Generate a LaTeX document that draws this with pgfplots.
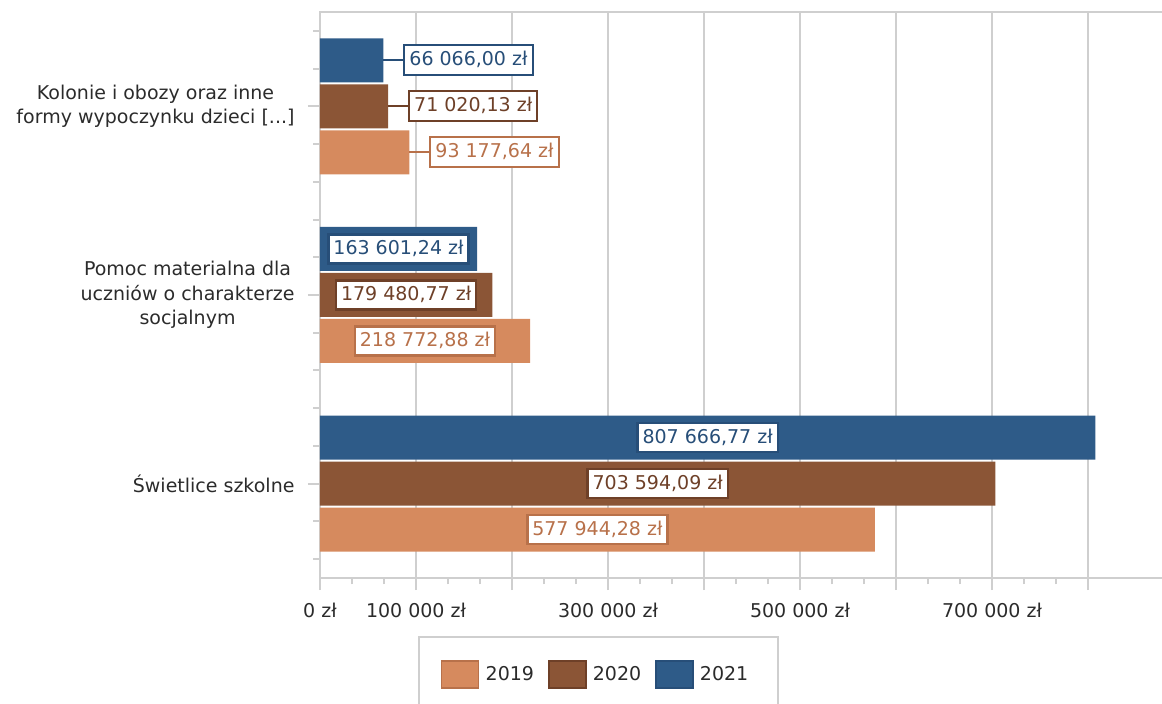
\documentclass[border=0pt]{standalone}
\usepackage{fontspec}
\setmainfont{DejaVu Sans}
\usepackage{pgfplots}
\usepackage{pgfplotstable}
\pgfplotsset{compat=1.18}

\definecolor{cA}{HTML}{D68A5E}
\definecolor{cAd}{HTML}{B8714A}
\definecolor{cB}{HTML}{8B5536}
\definecolor{cBd}{HTML}{6E4028}
\definecolor{cC}{HTML}{2E5B88}
\definecolor{cCd}{HTML}{274E78}
\definecolor{gridc}{HTML}{CFCFCF}
\definecolor{txt}{HTML}{2B2B2B}

\pgfplotstableread[col sep=semicolon]{
cat;val;lab
0;577944.28;577 944,28 zł
1;218772.88;218 772,88 zł
2;93177.64;93 177,64 zł
}\tA
\pgfplotstableread[col sep=semicolon]{
cat;val;lab
0;703594.09;703 594,09 zł
1;179480.77;179 480,77 zł
2;71020.13;71 020,13 zł
}\tB
\pgfplotstableread[col sep=semicolon]{
cat;val;lab
0;807666.77;807 666,77 zł
1;163601.24;163 601,24 zł
2;66066.00;66 066,00 zł
}\tC

\tikzset{
  inlab/.style n args={2}{anchor=center, fill=white, draw=#1, line width=2.5pt, text=#1,
    inner xsep=5pt, inner ysep=5.5pt, text height=14.5pt, text depth=3.5pt, yshift=#2},
  outlab/.style n args={2}{anchor=west, fill=white, draw=#1, line width=2pt, text=#1,
    inner xsep=5pt, inner ysep=6pt, text height=14.5pt, text depth=3.5pt, yshift=#2, xshift=20pt,
    append after command={(\tikzlastnode.west) edge[draw=#1, line width=2pt] ([xshift=-20pt]\tikzlastnode.west)}},
}

\begin{document}
\begin{tikzpicture}[font=\fontsize{19}{24.5}\selectfont]
\useasboundingbox (0,0) rectangle (1162pt,704pt);
\begin{axis}[
  at={(320pt,126pt)}, anchor=south west,
  scale only axis, width=844.8pt, height=566pt,
  xmin=0, xmax=880000, ymin=-0.5, ymax=2.5,
  axis line style={gridc, line width=2pt},
  tick style={gridc, line width=2pt},
  tick align=outside,
  xtick pos=bottom, ytick pos=left,
  major tick length=12pt, minor tick length=6.5pt,
  xtick={0,100000,200000,300000,400000,500000,600000,700000,800000},
  xticklabels={0 zł,100 000 zł,,300 000 zł,,500 000 zł,,700 000 zł,},
  minor x tick num=2,
  scaled x ticks=false,
  xmajorgrids, major grid style={gridc, line width=2pt},
  ytick={0,1,2},
  yticklabels={Świetlice szkolne,{Pomoc materialna dla\\uczniów o charakterze\\socjalnym},{Kolonie i obozy oraz inne\\formy wypoczynku dzieci [.{}.{}.]}},
  minor ytick={-0.4,-0.2,0.2,0.4,0.6,0.8,1.2,1.4,1.6,1.8,2.2,2.4},
  yticklabel style={align=center, text=txt, xshift=-10pt},
  xticklabel style={text=txt, yshift=-10pt},
  legend style={at={(0.116,-0.1025)}, anchor=north west, draw=gridc, line width=2pt,
    inner xsep=22pt, inner ysep=23pt, font=\fontsize{19}{24.5}\selectfont, text=txt,
    /tikz/every even column/.append style={column sep=12pt}},
  legend columns=3,
  legend cell align=left,
]
\addplot[xbar, bar width=44pt, bar shift=-46pt, fill=cA, draw=none,
  legend image code/.code={\draw[fill=cA, draw=cAd, line width=1.5pt] (0pt,-13.5pt) rectangle (37pt,13.5pt); \path (42pt,0pt);}]
  table[x=val, y=cat] {\tA};
\addlegendentry{2019}
\addplot[xbar, bar width=44pt, bar shift=0pt, fill=cB, draw=none,
  legend image code/.code={\draw[fill=cB, draw=cBd, line width=1.5pt] (0pt,-13.5pt) rectangle (37pt,13.5pt); \path (42pt,0pt);}]
  table[x=val, y=cat] {\tB};
\addlegendentry{2020}
\addplot[xbar, bar width=44pt, bar shift=46pt, fill=cC, draw=none,
  legend image code/.code={\draw[fill=cC, draw=cCd, line width=1.5pt] (0pt,-13.5pt) rectangle (37pt,13.5pt); \path (42pt,0pt);}]
  table[x=val, y=cat] {\tC};
\addlegendentry{2021\kern6pt}

% labels centred in the bars
\addplot[forget plot, sharp plot, draw=none, mark=none, restrict y to domain=-1:1.5,
  nodes near coords, point meta=explicit symbolic,
  every node near coord/.style={inlab={cAd}{-46pt}}]
  table[x expr=\thisrow{val}/2, y=cat, meta=lab] {\tA};
\addplot[forget plot, sharp plot, draw=none, mark=none, restrict y to domain=-1:1.5,
  nodes near coords, point meta=explicit symbolic,
  every node near coord/.style={inlab={cBd}{0pt}}]
  table[x expr=\thisrow{val}/2, y=cat, meta=lab] {\tB};
\addplot[forget plot, sharp plot, draw=none, mark=none, restrict y to domain=-1:1.5,
  nodes near coords, point meta=explicit symbolic,
  every node near coord/.style={inlab={cCd}{46pt}}]
  table[x expr=\thisrow{val}/2, y=cat, meta=lab] {\tC};
% labels outside the short bars
\addplot[forget plot, sharp plot, draw=none, mark=none, restrict y to domain=1.5:2.5,
  nodes near coords, point meta=explicit symbolic,
  every node near coord/.style={outlab={cAd}{-46pt}}]
  table[x=val, y=cat, meta=lab] {\tA};
\addplot[forget plot, sharp plot, draw=none, mark=none, restrict y to domain=1.5:2.5,
  nodes near coords, point meta=explicit symbolic,
  every node near coord/.style={outlab={cBd}{0pt}}]
  table[x=val, y=cat, meta=lab] {\tB};
\addplot[forget plot, sharp plot, draw=none, mark=none, restrict y to domain=1.5:2.5,
  nodes near coords, point meta=explicit symbolic,
  every node near coord/.style={outlab={cCd}{46pt}}]
  table[x=val, y=cat, meta=lab] {\tC};
\end{axis}
\end{tikzpicture}
\end{document}
